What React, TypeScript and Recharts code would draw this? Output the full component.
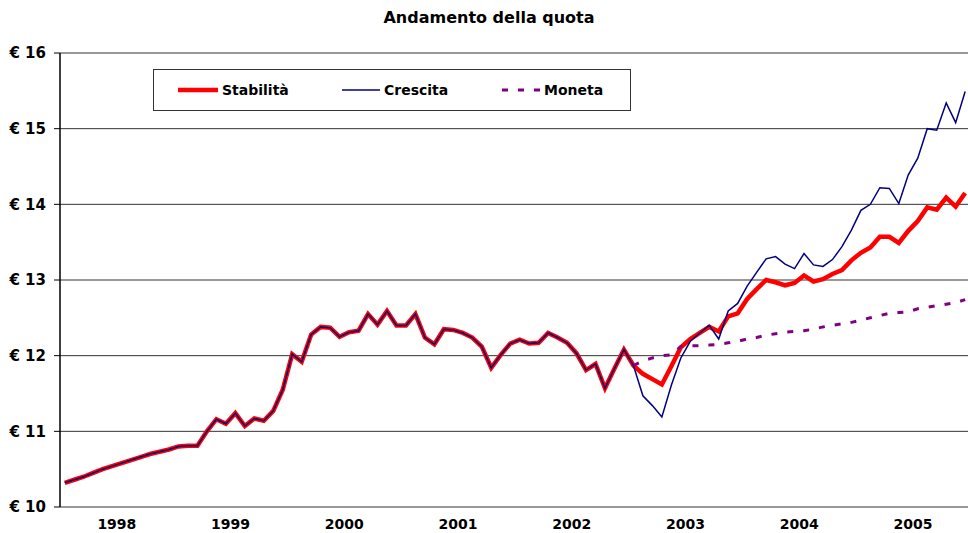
import React from 'react';
import { LineChart, Line, XAxis, YAxis, CartesianGrid } from 'recharts';

const years = ['1998', '1999', '2000', '2001', '2002', '2003', '2004', '2005'];
const yTicks = [10, 11, 12, 13, 14, 15, 16];

// Monthly values, Jan 1998 .. Dec 2005
const stabilita = [
  10.32, 10.36, 10.40, 10.45, 10.50, 10.54, 10.58, 10.62, 10.66, 10.70, 10.73, 10.76,
  10.80, 10.81, 10.81, 11.00, 11.16, 11.10, 11.24, 11.07, 11.17, 11.14, 11.27, 11.55,
  12.02, 11.92, 12.28, 12.38, 12.37, 12.25, 12.31, 12.33, 12.55, 12.41, 12.59, 12.40,
  12.40, 12.55, 12.24, 12.15, 12.35, 12.34, 12.30, 12.24, 12.12, 11.84, 12.01, 12.16,
  12.21, 12.16, 12.17, 12.30, 12.24, 12.17, 12.03, 11.81, 11.89, 11.57, 11.83, 12.08,
  11.87, 11.76, 11.69, 11.62, 11.86, 12.11, 12.22, 12.30, 12.38, 12.32, 12.52, 12.56,
  12.75, 12.88, 13.00, 12.97, 12.93, 12.96, 13.06, 12.98, 13.01, 13.08, 13.13, 13.26,
  13.36, 13.43, 13.57, 13.57, 13.49, 13.65, 13.78, 13.96, 13.93, 14.09, 13.97, 14.15,
];

const crescita = [
  10.32, 10.36, 10.40, 10.45, 10.50, 10.54, 10.58, 10.62, 10.66, 10.70, 10.73, 10.76,
  10.80, 10.81, 10.81, 11.00, 11.16, 11.10, 11.24, 11.07, 11.17, 11.14, 11.27, 11.55,
  12.02, 11.92, 12.28, 12.38, 12.37, 12.25, 12.31, 12.33, 12.55, 12.41, 12.59, 12.40,
  12.40, 12.55, 12.24, 12.15, 12.35, 12.34, 12.30, 12.24, 12.12, 11.84, 12.01, 12.16,
  12.21, 12.16, 12.17, 12.30, 12.24, 12.17, 12.03, 11.81, 11.89, 11.57, 11.83, 12.08,
  11.87, 11.47, 11.34, 11.19, 11.61, 11.97, 12.19, 12.30, 12.40, 12.22, 12.59, 12.69,
  12.92, 13.10, 13.28, 13.31, 13.21, 13.15, 13.35, 13.20, 13.18, 13.27, 13.44, 13.66,
  13.92, 14.00, 14.22, 14.21, 14.01, 14.39, 14.61, 15.00, 14.98, 15.34, 15.08, 15.49,
];

// Moneta starts in Jan 2003 (month index 60)
const monetaStart = 60;
const moneta = [
  11.87, 11.93, 11.97, 12.00, 12.01, 12.12, 12.13, 12.13, 12.14, 12.15, 12.17, 12.19,
  12.22, 12.24, 12.27, 12.29, 12.31, 12.32, 12.33, 12.35, 12.38, 12.40, 12.42, 12.44,
  12.47, 12.50, 12.53, 12.56, 12.57, 12.58, 12.62, 12.64, 12.66, 12.68, 12.70, 12.74,
];

const data = stabilita.map((v, i) => ({
  t: i + 0.5,
  stabilita: v,
  crescita: crescita[i],
  moneta: i >= monetaStart ? moneta[i - monetaStart] : null,
}));

const yearStarts = years.map((_, k) => k * 12);
const yearMids = years.map((_, k) => k * 12 + 6);
const xDomain = [0, 95.8];

const FONT = '"DejaVu Sans", Verdana, sans-serif';

const LegendBox = () => (
  <div
    style={{
      position: 'absolute',
      left: 153,
      top: 69,
      width: 476,
      height: 40,
      border: '1px solid #333',
      background: '#fff',
      zIndex: 2,
    }}
  >
    <svg width={476} height={40} style={{ position: 'absolute', left: 0, top: 0 }}>
      <line x1={24} x2={64} y1={20} y2={20} stroke="#ff0000" strokeWidth={4.5} />
      <text x={68} y={25} fontFamily={FONT} fontWeight="bold" fontSize={14}>Stabilità</text>
      <line x1={188} x2={226} y1={20} y2={20} stroke="#000080" strokeWidth={1.5} />
      <text x={230} y={25} fontFamily={FONT} fontWeight="bold" fontSize={14}>Crescita</text>
      <line x1={348} x2={386} y1={20} y2={20} stroke="#800080" strokeWidth={3} strokeDasharray="6 10" />
      <text x={390} y={25} fontFamily={FONT} fontWeight="bold" fontSize={14}>Moneta</text>
    </svg>
  </div>
);

export default function App() {
  return (
    <div style={{ position: 'absolute', left: 0, top: 0, width: 968, height: 533, background: '#fff', overflow: 'hidden' }}>
      <div
        style={{
          position: 'absolute',
          left: 0,
          top: 8,
          width: 978,
          textAlign: 'center',
          fontFamily: FONT,
          fontWeight: 'bold',
          fontSize: 16,
          color: '#000',
          zIndex: 2,
        }}
      >
        Andamento della quota
      </div>
      <LineChart
        width={968}
        height={533}
        data={data}
        margin={{ top: 53, right: 0, bottom: 0, left: 0 }}
      >
        <CartesianGrid horizontal vertical={false} stroke="#333" strokeOpacity={1} />
        <XAxis
          xAxisId="bounds"
          type="number"
          dataKey="t"
          domain={xDomain}
          allowDataOverflow
          ticks={yearStarts}
          tick={false}
          height={0}
          tickSize={5}
          axisLine={{ stroke: '#000', strokeWidth: 1.5 }}
          tickLine={{ stroke: '#000' }}
        />
        <XAxis
          xAxisId="labels"
          type="number"
          dataKey="t"
          domain={xDomain}
          allowDataOverflow
          ticks={yearMids}
          interval={0}
          tickFormatter={(v: number) => years[Math.floor(v / 12)]}
          height={26}
          axisLine={false}
          tickLine={false}
          tickSize={6}
          tickMargin={6}
          tick={{ fontFamily: FONT, fontWeight: 'bold', fontSize: 14, fill: '#000' }}
        />
        <YAxis
          type="number"
          domain={[10, 16]}
          ticks={yTicks}
          interval={0}
          width={60}
          tickFormatter={(v: number) => `€ ${v}`}
          tickSize={6}
          tickMargin={8}
          axisLine={{ stroke: '#000', strokeWidth: 1.5 }}
          tickLine={{ stroke: '#000' }}
          tick={{ fontFamily: FONT, fontWeight: 'bold', fontSize: 15, fill: '#000' }}
        />
        <Line
          xAxisId="bounds"
          type="linear"
          dataKey="stabilita"
          name="Stabilità"
          stroke="#ff0000"
          strokeWidth={4.5}
          dot={false}
          activeDot={false}
          isAnimationActive={false}
        />
        <Line
          xAxisId="bounds"
          type="linear"
          dataKey="crescita"
          name="Crescita"
          stroke="#000080"
          strokeWidth={1.5}
          dot={false}
          activeDot={false}
          isAnimationActive={false}
        />
        <Line
          xAxisId="bounds"
          type="linear"
          dataKey="moneta"
          name="Moneta"
          stroke="#800080"
          strokeWidth={3}
          strokeDasharray="6 10"
          dot={false}
          activeDot={false}
          connectNulls={false}
          isAnimationActive={false}
        />
      </LineChart>
      <LegendBox />
    </div>
  );
}
